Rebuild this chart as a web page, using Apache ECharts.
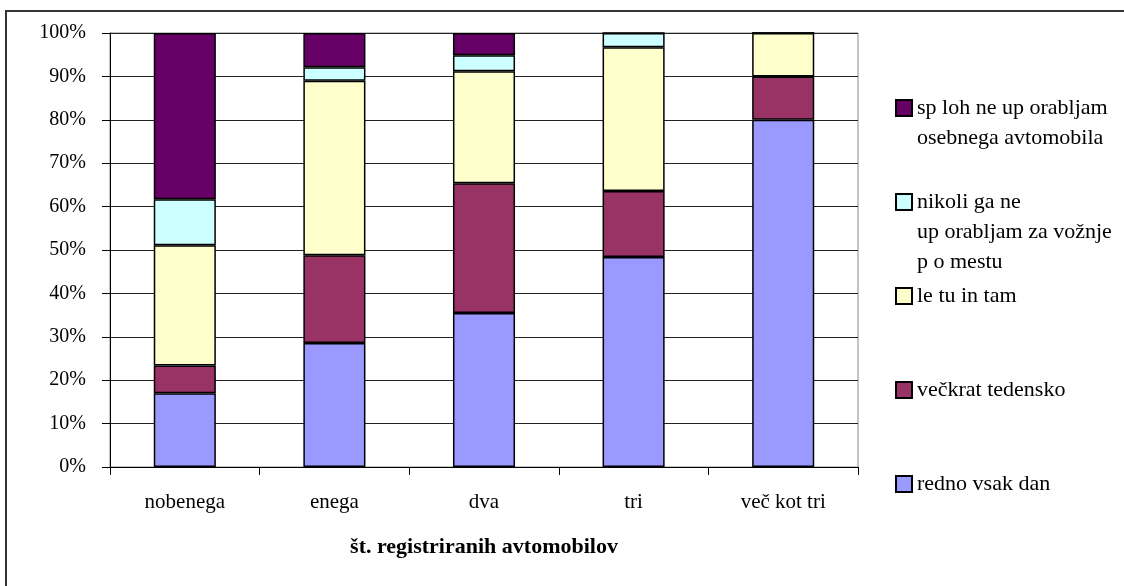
<!DOCTYPE html>
<html>
<head>
<meta charset="utf-8">
<script src="https://cdn.jsdelivr.net/npm/echarts@6/dist/echarts.min.js"></script>
<style>
  html, body { margin: 0; padding: 0; background: #fff; }
  #main { width: 1124px; height: 586px; }
</style>
</head>
<body>
<div id="main"></div>
<script>
// kategorije (št. registriranih avtomobilov)
var categories = ['nobenega', 'enega', 'dva', 'tri', 'več kot tri'];
// deleži v % (od spodaj navzgor)
var rednoVsakDan = [17.0, 28.6, 35.5, 48.4, 80.0];
var veckratTedensko = [6.4, 20.2, 29.9, 15.2, 10.0];
var leTuInTam = [27.7, 40.2, 25.8, 33.1, 10.0];
var nikoliPoMestu = [10.6, 3.1, 3.7, 3.3, 0];
var splohNe = [38.3, 7.9, 5.1, 0, 0];
var yTicks = [0, 10, 20, 30, 40, 50, 60, 70, 80, 90, 100];

var FONT = 'Liberation Serif';
var LH = 30;

var names = {
  sploh: 'sploh ne uporabljam osebnega avtomobila',
  nikoli: 'nikoli ga ne uporabljam za vožnje po mestu',
  le: 'le tu in tam',
  veckrat: 'večkrat tedensko',
  redno: 'redno vsak dan'
};
// vrstice v legendi
var legendLines = {};
legendLines[names.sploh] = ['sp loh ne up orabljam', 'osebnega avtomobila'];
legendLines[names.nikoli] = ['nikoli ga ne', 'up orabljam za vožnje', 'p o mestu'];
legendLines[names.le] = ['le tu in tam'];
legendLines[names.veckrat] = ['večkrat tedensko'];
legendLines[names.redno] = ['redno vsak dan'];

// 5 vrstic na vnos, prva prava vrstica v sredini (poravnana z ikono)
function legendText(name) {
  var lines = legendLines[name];
  var out = ['', ''].concat(lines);
  while (out.length < 5) out.push('');
  return out.join('\n');
}

function bar(name, color, data) {
  return {
    name: name,
    type: 'bar',
    stack: 'vsi',
    barWidth: '41.5%',
    itemStyle: { color: color, borderColor: '#000', borderWidth: 1.5 },
    emphasis: { disabled: true },
    data: data
  };
}

var chart = echarts.init(document.getElementById('main'));
chart.setOption({
  animation: false,
  backgroundColor: '#fff',
  textStyle: { fontFamily: FONT },
  graphic: [{
    type: 'rect',
    shape: { x: 6, y: 11, width: 1300, height: 800 },
    style: { fill: 'none', stroke: '#333', lineWidth: 2 },
    silent: true
  }],
  grid: {
    left: 110, right: 266, top: 33, bottom: 119,
    show: true, borderColor: '#888', borderWidth: 1, backgroundColor: 'transparent'
  },
  legend: {
    orient: 'vertical',
    left: 895,
    top: 33,
    padding: 0,
    itemGap: 94 - 5 * LH,
    itemWidth: 16,
    itemHeight: 16,
    icon: 'rect',
    selectedMode: false,
    textStyle: { fontFamily: FONT, fontSize: 22, color: '#000', lineHeight: LH },
    formatter: legendText,
    data: [names.sploh, names.nikoli, names.le, names.veckrat, names.redno]
  },
  xAxis: {
    type: 'category',
    data: categories,
    name: 'št. registriranih avtomobilov',
    nameLocation: 'middle',
    nameGap: 69,
    nameMoveOverlap: false,
    nameTextStyle: { fontFamily: FONT, fontSize: 22, fontWeight: 'bold', color: '#000' },
    axisLine: { lineStyle: { color: '#000', width: 1 } },
    axisTick: { show: true, length: 8, lineStyle: { color: '#000' } },
    axisLabel: { fontFamily: FONT, fontSize: 21, color: '#000', margin: 25 },
    splitLine: { show: false }
  },
  yAxis: {
    type: 'value',
    min: yTicks[0],
    max: yTicks[yTicks.length - 1],
    interval: 10,
    axisLine: { show: true, lineStyle: { color: '#000', width: 1 } },
    axisTick: { show: true, length: 8, lineStyle: { color: '#000' } },
    axisLabel: { fontFamily: FONT, fontSize: 20, color: '#000', margin: 24, formatter: '{value}%' },
    splitLine: { show: true, lineStyle: { color: '#222', width: 1 } }
  },
  series: [
    bar(names.redno, '#9999FF', rednoVsakDan),
    bar(names.veckrat, '#993366', veckratTedensko),
    bar(names.le, '#FFFFCC', leTuInTam),
    bar(names.nikoli, '#CCFFFF', nikoliPoMestu),
    bar(names.sploh, '#660066', splohNe)
  ]
});
</script>
</body>
</html>
